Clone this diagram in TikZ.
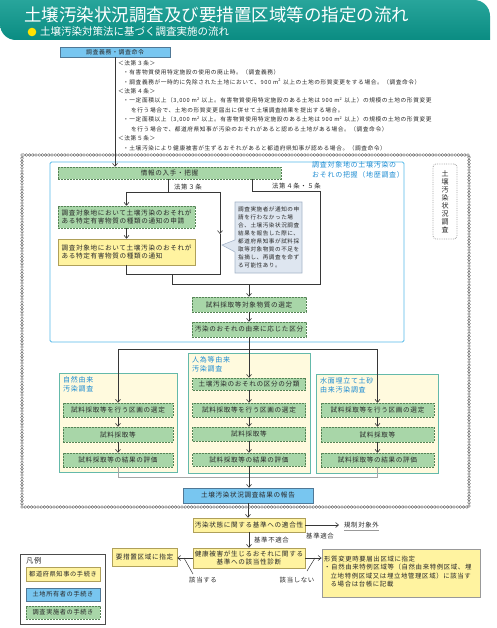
\documentclass[tikz,border=0pt]{standalone}
\usepackage{fontspec}
\setmainfont{Noto Sans CJK JP}
\newfontfamily\jp[LetterSpace=10]{Noto Sans CJK JP}
\usetikzlibrary{arrows.meta,decorations.pathmorphing}
\definecolor{grnF}{RGB}{168,214,168}
\definecolor{grnD}{RGB}{85,130,85}
\definecolor{ylwF}{RGB}{255,243,160}
\definecolor{ylwD}{RGB}{175,160,90}
\definecolor{bluF}{RGB}{120,198,240}
\definecolor{bluD}{RGB}{80,120,150}
\definecolor{panB}{RGB}{85,185,232}
\definecolor{panT}{RGB}{30,140,210}
\definecolor{pnlF}{RGB}{255,250,222}
\definecolor{pnlD}{RGB}{100,185,170}
\definecolor{callF}{RGB}{222,230,240}
\definecolor{callD}{RGB}{165,180,200}
\definecolor{lineC}{RGB}{55,55,55}
\definecolor{txtC}{RGB}{40,40,40}
\definecolor{banA}{RGB}{40,165,155}
\definecolor{banB}{RGB}{110,200,190}
\definecolor{banC}{RGB}{10,140,130}
\definecolor{chainC}{RGB}{105,105,105}
\tikzset{
  wh/.style 2 args={minimum width=#1pt,minimum height=#2pt},
  box/.style={inner sep=0pt,font=\jp\fontsize{6.6}{8.6}\selectfont,align=center,text=txtC},
  gbox/.style={box,fill=grnF,draw=grnD,line width=0.5pt,dash pattern=on 2pt off 1pt},
  ybox/.style={box,fill=ylwF,draw=ylwD,line width=0.5pt},
  bbox/.style={box,fill=bluF,draw=bluD,line width=0.5pt},
  pnl/.style={fill=pnlF,draw=pnlD,line width=0.9pt},
  ptitle/.style={inner sep=0pt,anchor=north west,align=left,text=panT,font=\jp\fontsize{7}{9.5}\selectfont},
  itxt/.style={inner sep=0pt,anchor=west,text=txtC,font=\jp\fontsize{5.7}{8}\selectfont},
  lbl/.style={inner sep=0pt,text=txtC,font=\jp\fontsize{6.4}{8}\selectfont},
  ln/.style={draw=lineC,line width=0.6pt},
  arr/.style={ln,-{Straight Barb[length=3pt,width=5pt]}},
  gln/.style={draw=gray!70,line width=1pt},
  chainout/.style={draw=chainC,line width=3.4pt,line cap=round,dash pattern=on 0pt off 3.2pt},
  chainin/.style={draw=white,line width=1.7pt,line cap=round,dash pattern=on 0pt off 3.2pt},
}
\begin{document}
\begin{tikzpicture}[x=1pt,y=-1pt]
\useasboundingbox (0,0) rectangle (496,628);
% banner
\shade[top color=banA,middle color=banB,bottom color=banC]
  (0,0) -- (474,0) .. controls (483,0) and (490,7) .. (490,16) -- (490,40)
  -- (16,40) .. controls (7,40) and (0,33) .. (0,24) -- cycle;
\node[inner sep=0pt,anchor=west,text=white,font=\fontsize{17.5}{18}\selectfont] (title) at (24,15) {土壌汚染状況調査及び要措置区域等の指定の流れ};
\fill[yellow!85!orange] (32,32) circle (4.3);
\node[inner sep=0pt,anchor=west,text=white,font=\fontsize{10.5}{11}\selectfont] (subtitle) at (40,32) {土壌汚染対策法に基づく調査実施の流れ};

% top box and intro text
\node[bbox,wh={110}{10},font=\jp\fontsize{5.9}{7}\selectfont] (bx0) at (115,52) {調査義務・調査命令};
\node[itxt] (t1) at (118,63) {＜法第３条＞};
\node[itxt] (t2) at (123,72.5) {・有害物質使用特定施設の使用の廃止時。（調査義務）};
\node[itxt] (t3) at (123,82) {・調査義務が一時的に免除された土地において、900 m\textsuperscript{2} 以上の土地の形質変更をする場合。（調査命令）};
\node[itxt] (t4) at (118,91.4) {＜法第４条＞};
\node[itxt] (t5) at (123,100.8) {・一定面積以上（3,000 m\textsuperscript{2} 以上。有害物質使用特定施設のある土地は 900 m\textsuperscript{2} 以上）の規模の土地の形質変更};
\node[itxt] (t6) at (131,110.3) {を行う場合で、土地の形質変更届出に併せて土壌調査結果を提出する場合。};
\node[itxt] (t7) at (123,119.7) {・一定面積以上（3,000 m\textsuperscript{2} 以上。有害物質使用特定施設のある土地は 900 m\textsuperscript{2} 以上）の規模の土地の形質変更};
\node[itxt] (t8) at (131,129.2) {を行う場合で、都道府県知事が汚染のおそれがあると認める土地がある場合。（調査命令）};
\node[itxt] (t9) at (118,138.6) {＜法第５条＞};
\node[itxt] (t10) at (123,148) {・土壌汚染により健康被害が生ずるおそれがあると都道府県知事が認める場合。（調査命令）};

% chain border (ring chain)
\draw[chainout] (22,155) rectangle (469,507);
\draw[chainin] (22,155) rectangle (469,507);

% vertical label
\node[draw=gray!70,densely dotted,line width=0.8pt,rounded corners=3pt,fill=white,wh={24}{75},inner sep=0pt,align=center,font=\jp\fontsize{7}{8}\selectfont,text=txtC] (vlab) at (445,201.5) {土\\壌\\汚\\染\\状\\況\\調\\査};

% blue panel
\draw[panB,line width=0.9pt,rounded corners=1.5pt] (50,162) rectangle (404,342);
\node[ptitle,font=\jp\fontsize{7}{10}\selectfont] (ptop) at (312,161) {調査対象地の土壌汚染の\\おそれの把握（地歴調査）};

\node[gbox,wh={223}{12}] (info) at (169.5,173) {情報の入手・把握};
\node[gbox,wh={137}{22},align=left] (box1) at (126.5,217) {調査対象地において土壌汚染のおそれが\\ある特定有害物質の種類の通知の申請};
\node[ybox,wh={137}{26},align=left] (box2) at (126.5,252) {調査対象地において土壌汚染のおそれが\\ある特定有害物質の種類の通知};

% callout
\filldraw[fill=callF,draw=callD,line width=0.6pt] (235,202) -- (302,202) -- (302,273) -- (235,273) -- (235,252) -- (222,245) -- (235,240) -- cycle;
\node[inner sep=0pt,anchor=north west,align=left,text=txtC,font=\jp\fontsize{5.6}{7.9}\selectfont] (calltxt) at (238,207) {調査実施者が通知の申\\請を行わなかった場\\合、土壌汚染状況調査\\結果を報告した際に、\\都道府県知事が試料採\\取等対象物質の不足を\\指摘し、再調査を命ず\\る可能性あり。};

\node[gbox,wh={114}{15}] (sel) at (249,304.5) {試料採取等対象物質の選定};
\node[gbox,wh={114}{15}] (kubun) at (249,329.5) {汚染のおそれの由来に応じた区分};

% connectors in blue panel
\draw[arr] (bx0.south) -- (bx0.south |- info.north);
\coordinate (j3) at (168,192);
\coordinate (j3l) at (126.5,192);
\coordinate (j3r) at (220,192);
\coordinate (m3) at (220,234);
\coordinate (b3r) at (220,274);
\coordinate (b3l) at (126.5,274);
\coordinate (b3m) at (172,274);
\coordinate (b45l) at (172,284);
\coordinate (b45r) at (320,284);
\coordinate (j45) at (252,191);
\coordinate (j45r) at (320,191);
\draw[ln] (info.south -| j3) -- (j3);
\draw[ln] (j3l) -- (j3r);
\draw[arr] (j3l) -- (box1.north);
\draw[arr] (box1.south) -- (box2.north);
\draw[arr] (j3r) -- (m3);
\draw[ln] (m3) -- (b3r) -- (b3l) -- (box2.south);
\draw[ln] (info.south -| j45) -- (j45) -- (j45r) -- (b45r) -- (b45l) -- (b3m);
\draw[arr] (sel.north |- b45l) -- (sel.north);
\draw[arr] (sel.south) -- (kubun.north);
\node[lbl,anchor=south west] (l3) at (174,190) {法第３条};
\node[lbl,anchor=south west] (l45) at (272,189) {法第４条・５条};

% three panels
\node[pnl,wh={118}{99}] (pL) at (118,422.5) {};
\node[pnl,wh={122}{120}] (pM) at (249,413) {};
\node[pnl,wh={122}{99}] (pR) at (377,423.5) {};
\node[ptitle] (tL) at (63,376) {自然由来\\汚染調査};
\node[ptitle] (tM) at (192,356) {人為等由来\\汚染調査};
\node[ptitle] (tR) at (320,377) {水面埋立て土砂\\由来汚染調査};

\node[gbox,wh={110}{14}] (L1) at (118,410) {試料採取等を行う区画の選定};
\node[gbox,wh={110}{15}] (L2) at (118,434.5) {試料採取等};
\node[gbox,wh={110}{14}] (L3) at (118,460) {試料採取等の結果の評価};
\node[gbox,wh={113}{12}] (M0) at (249,384) {土壌汚染のおそれの区分の分類};
\node[gbox,wh={113}{14}] (M1) at (249,410) {試料採取等を行う区画の選定};
\node[gbox,wh={113}{14}] (M2) at (249,434) {試料採取等};
\node[gbox,wh={113}{13}] (M3) at (249,459.5) {試料採取等の結果の評価};
\node[gbox,wh={113}{14}] (R1) at (377.5,410) {試料採取等を行う区画の選定};
\node[gbox,wh={113}{15}] (R2) at (377.5,434.5) {試料採取等};
\node[gbox,wh={113}{14}] (R3) at (377.5,460) {試料採取等の結果の評価};

\coordinate (dl) at (118,349);
\coordinate (dr) at (377.5,349);
\draw[ln] (kubun.south) -- (kubun.south |- dl);
\draw[ln] (dl) -- (dr);
\draw[arr] (dl) -- (L1.north);
\draw[arr] (dr) -- (R1.north);
\draw[arr] (kubun.south |- dl) -- (M0.north);
\foreach \a/\b in {L1/L2,L2/L3,M0/M1,M1/M2,M2/M3,R1/R2,R2/R3}
  \draw[arr] (\a.south) -- (\b.north);

% merge
\coordinate (ml) at (118,477);
\coordinate (mr) at (377.5,477);
\draw[gln] (L3.south) -- (ml) -- (mr) -- (R3.south);
\draw[ln] (M3.south) -- (M3.south |- ml);

\node[bbox,wh={130}{15}] (report) at (248,495.5) {土壌汚染状況調査結果の報告};
\draw[arr] (M3.south |- ml) -- (M3.south |- report.north);

% bottom part
\node[ybox,wh={112}{14}] (teki) at (249,525) {汚染状態に関する基準への適合性};
\node[ybox,wh={112}{20}] (kenko) at (249,558) {健康被害が生じるおそれに関する\\基準への該当性診断};
\node[ybox,wh={65}{18}] (yosochi) at (144.5,557) {要措置区域に指定};
\node[ybox,draw=gray!80,line width=0.8pt,wh={158}{48}] (keishitsu) at (401,573) {};
\node[inner sep=0pt,anchor=north west,align=left,text=txtC,font=\jp\fontsize{6.4}{8.4}\selectfont] (ktxt) at (324,556) {形質変更時要届出区域に指定\\・自然由来特例区域等（自然由来特例区域、埋\\\hspace{6.5pt}立地特例区域又は埋立地管理区域）に該当す\\\hspace{6.5pt}る場合は台帳に記載};
\node[lbl,anchor=west] (kisei) at (344,525) {規制対象外};
\draw[gray!80,line width=0.5pt] (kisei.south west) ++(0,2) -- ([yshift=-2pt]kisei.south east);
\node[lbl] (tekigo) at (320,536.5) {基準適合};
\node[lbl,anchor=west] (futekigo) at (254,540.5) {基準不適合};
\node[lbl] (gaitou) at (203,580.5) {該当する};
\node[lbl] (higaitou) at (297,580.5) {該当しない};

\draw[arr] (report.south) -- (report.south |- teki.north);
\draw[arr] (teki.east) -- ([xshift=-5pt]kisei.west);
\draw[arr] (teki.south) -- (teki.south |- kenko.north);
\draw[arr] (kenko.west) -- (yosochi.east |- kenko.west);
\draw[arr] (kenko.east) -- (keishitsu.west |- kenko.east);
\coordinate (g1) at (184,558);
\coordinate (g2) at (193,574);
\coordinate (h1) at (315,558);
\coordinate (h2) at (307,571);
\draw[ln,line width=0.5pt] (g1) -- (g2);
\draw[ln,line width=0.5pt] (h1) -- (h2);

% legend
\draw[gray!60!black,line width=0.9pt] (20,554) rectangle (105,624);
\node[inner sep=0pt,anchor=west,text=txtC,font=\jp\fontsize{7.3}{8}\selectfont] (lgt) at (26,560.5) {凡例};
\node[ybox,wh={74}{14},font=\jp\fontsize{6.2}{7}\selectfont] (lg1) at (63,574) {都道府県知事の手続き};
\node[bbox,wh={74}{13},font=\jp\fontsize{6.2}{7}\selectfont] (lg2) at (63,594.5) {土地所有者の手続き};
\node[gbox,wh={74}{13},font=\jp\fontsize{6.2}{7}\selectfont] (lg3) at (63,612.5) {調査実施者の手続き};
\end{tikzpicture}
\end{document}
